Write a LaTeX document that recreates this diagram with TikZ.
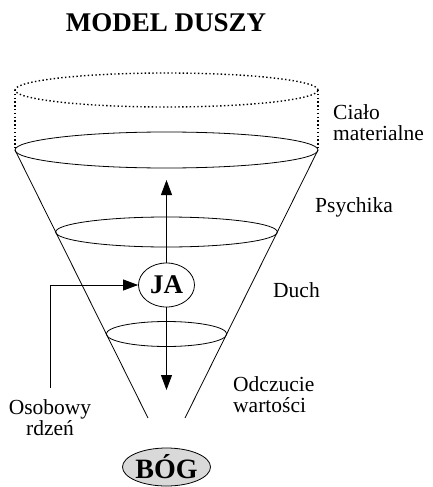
\documentclass[tikz,border=0pt]{standalone}
\usepackage{fontspec}
\setmainfont{Liberation Serif}
\usetikzlibrary{arrows.meta,shapes.geometric}

\begin{document}
\begin{tikzpicture}[x=1pt,y=-1pt,
    layer/.style={draw,line width=0.8pt},
    shell/.style={draw,line width=1.4pt,dash pattern=on 1.4pt off 2.4pt},
    lbl/.style={anchor=base west,inner sep=0pt,align=left,font=\fontsize{21.5}{21}\selectfont},
    core/.style={draw,ellipse,line width=0.8pt,inner sep=0pt,font=\bfseries\fontsize{27}{27}\selectfont},
    arc/.style={draw,line width=0.8pt,-{Triangle[length=15pt,width=11pt]}}]
    \useasboundingbox (0,0) rectangle (433,487);

    % tytul
    \node[anchor=base,inner sep=0pt,font=\bfseries\fontsize{27}{27}\selectfont] (title) at (166,32) {MODEL DUSZY};

    % cialo materialne
    \draw[shell] (166.5,90) ellipse [x radius=151.5pt, y radius=17pt];
    \draw[shell] (15,90) -- (15,150) (318,90) -- (318,150);

    % stozek i warstwy
    \draw[layer] (166.5,150) ellipse [x radius=151.5pt, y radius=18pt];
    \draw[layer] (15,150) -- (148,418) (318,150) -- (185,418);
    \draw[layer] (166.5,232) ellipse [x radius=110.8pt, y radius=15pt];
    \draw[layer] (166.5,334) ellipse [x radius=60.2pt, y radius=12.5pt];

    \node[core,fill=white,minimum width=56pt,minimum height=44pt] (ja) at (166.5,285) {JA};
    \node[core,fill=gray!30,minimum width=83pt,minimum height=38pt,font=\bfseries\fontsize{28}{28}\selectfont] (bog) at (166.5,467) {BÓG};

    \coordinate (up) at (166.5,180);
    \coordinate (down) at (166.5,390);
    \coordinate (rdzen) at (50,388);
    \draw[arc] (ja) -- (up);
    \draw[arc] (ja) -- (down);
    \draw[arc] (rdzen) |- (ja);

    % opisy
    \node[lbl] (cialo) at (333,140) {Ciało\\materialne};
    \node[lbl] (psychika) at (315,212) {Psychika};
    \node[lbl] (duch) at (273,297) {Duch};
    \node[lbl] (odczucie) at (233,412) {Odczucie\\wartości};
    \node[lbl,anchor=base,align=center] (osobowy) at (50,435) {Osobowy\\rdzeń};
\end{tikzpicture}
\end{document}
